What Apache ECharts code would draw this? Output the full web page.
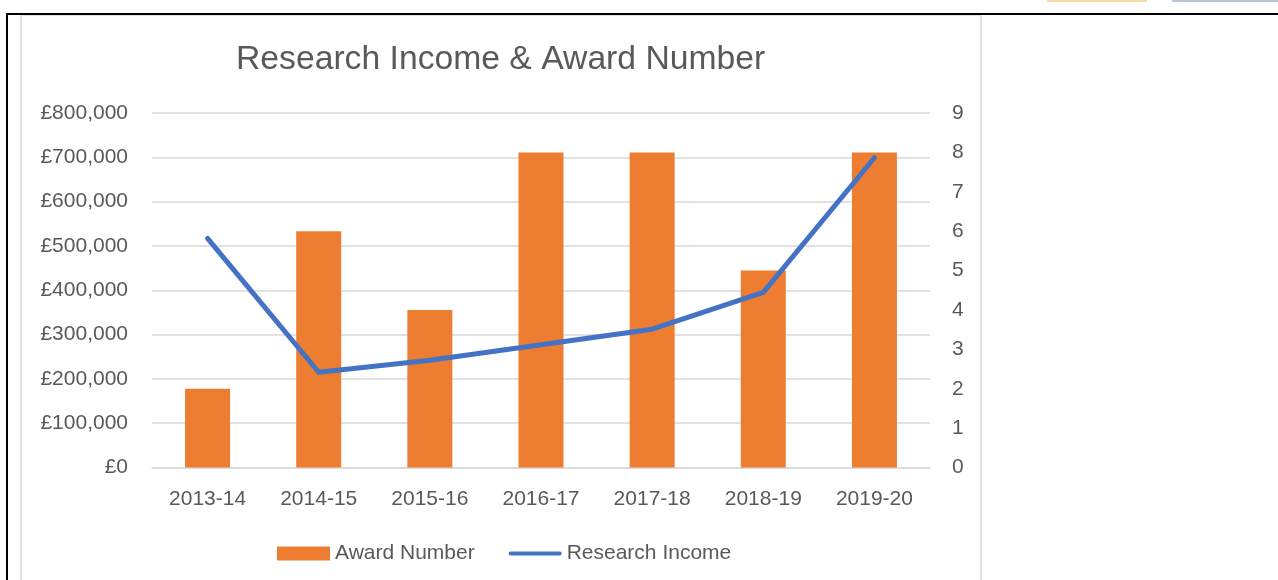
<!DOCTYPE html>
<html>
<head>
<meta charset="utf-8">
<script src="https://cdn.jsdelivr.net/npm/echarts@6/dist/echarts.min.js"></script>
<style>
html,body{margin:0;padding:0;background:#fff;}
#chart{width:1278px;height:580px;}
</style>
</head>
<body>
<div id="chart"></div>
<script>
var categories = ['2013-14', '2014-15', '2015-16', '2016-17', '2017-18', '2018-19', '2019-20'];
var awardNumber = [2, 6, 4, 8, 8, 5, 8];
var researchIncome = [517000, 215000, 242000, 277000, 312000, 395000, 699000];
var titleText = 'Research Income & Award Number';

var FONT = '"Liberation Sans", Arial, sans-serif';
var TXT = '#595959';

function gbp(v) {
  return '£' + String(Math.round(v)).replace(/\B(?=(\d{3})+(?!\d))/g, ',');
}

var chart = echarts.init(document.getElementById('chart'), null, {renderer: 'canvas'});
chart.setOption({
  animation: false,
  backgroundColor: '#ffffff',
  textStyle: {fontFamily: FONT},
  title: {
    text: titleText,
    left: 231,
    top: 38,
    textStyle: {fontFamily: FONT, fontSize: 33.7, fontWeight: 'normal', color: TXT}
  },
  grid: {left: 152, right: 348, top: 113, bottom: 112.5, containLabel: false},
  legend: {
    left: 272,
    top: 538,
    itemWidth: 53,
    itemHeight: 14,
    itemGap: 34,
    textStyle: {fontFamily: FONT, fontSize: 21, color: TXT},
    data: [
      {name: 'Award Number', icon: 'rect'},
      {name: 'Research Income', icon: 'path://M2,0 L54,0 A2,2 0 0 1 54,4 L2,4 A2,2 0 0 1 2,0 Z'}
    ]
  },
  xAxis: {
    type: 'category',
    data: categories,
    axisLine: {lineStyle: {color: '#d9d9d9', width: 1.5}},
    axisTick: {show: false},
    axisLabel: {fontFamily: FONT, fontSize: 21, color: TXT, margin: 21}
  },
  yAxis: [
    {
      type: 'value',
      min: 0, max: 800000, interval: 100000,
      axisLine: {show: false},
      axisTick: {show: false},
      splitLine: {lineStyle: {color: '#d9d9d9', width: 1.5}},
      axisLabel: {fontFamily: FONT, fontSize: 21, color: TXT, margin: 24, formatter: gbp}
    },
    {
      type: 'value',
      min: 0, max: 9, interval: 1,
      axisLine: {show: false},
      axisTick: {show: false},
      splitLine: {show: false},
      axisLabel: {fontFamily: FONT, fontSize: 21, color: TXT, margin: 22}
    }
  ],
  series: [
    {
      name: 'Award Number',
      type: 'bar',
      yAxisIndex: 1,
      data: awardNumber,
      barWidth: 45,
      itemStyle: {color: '#ED7D31'},
      z: 2
    },
    {
      name: 'Research Income',
      type: 'line',
      yAxisIndex: 0,
      data: researchIncome,
      symbol: 'none',
      showSymbol: false,
      lineStyle: {color: '#4472C4', width: 5, cap: 'round', join: 'round'},
      itemStyle: {color: '#4472C4'},
      z: 3
    }
  ],
  graphic: [
    {type: 'rect', shape: {x: 21, y: 15, width: 960, height: 600}, style: {fill: 'none', stroke: '#d9d9d9', lineWidth: 1.5}, z: 0, silent: true},
    {type: 'line', shape: {x1: 7, y1: 14, x2: 1278, y2: 14}, style: {stroke: '#000', lineWidth: 2}, z: 10, silent: true},
    {type: 'line', shape: {x1: 7, y1: 13, x2: 7, y2: 580}, style: {stroke: '#000', lineWidth: 2}, z: 10, silent: true},
    {type: 'rect', shape: {x: 1047, y: 0, width: 100, height: 2}, style: {fill: '#f7dca8'}, silent: true},
    {type: 'rect', shape: {x: 1172, y: 0, width: 106, height: 2}, style: {fill: '#b8c4d2'}, silent: true}
  ]
});
</script>
</body>
</html>
